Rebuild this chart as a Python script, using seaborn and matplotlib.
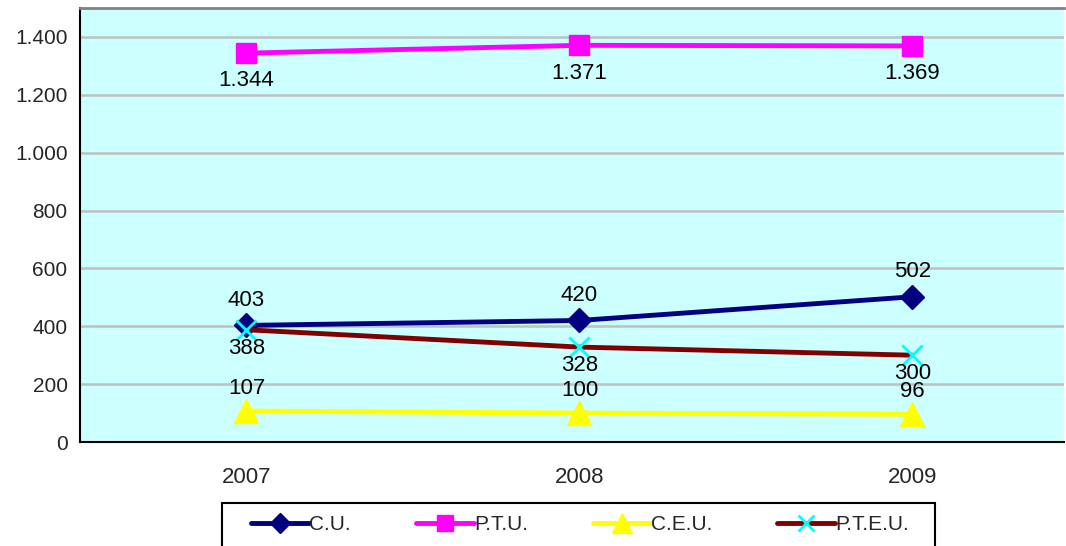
import matplotlib
matplotlib.use("Agg")
import matplotlib.pyplot as plt
import pandas as pd
import seaborn as sns
from matplotlib.patches import Rectangle
from matplotlib.ticker import FuncFormatter

# data
years = ["2007", "2008", "2009"]
cu = [403, 420, 502]
ptu = [1344, 1371, 1369]
ceu = [107, 100, 96]
pteu = [388, 328, 300]

series_names = ["C.U.", "P.T.U.", "C.E.U.", "P.T.E.U."]
series_vals = [cu, ptu, ceu, pteu]

rows = []
for name, vals in zip(series_names, series_vals):
    for i, v in enumerate(vals):
        rows.append({"serie": name, "x": i, "valore": v})
df = pd.DataFrame(rows)

sns.set_style("white")
plt.rcParams["font.family"] = ["Liberation Sans", "DejaVu Sans"]

fig = plt.figure(figsize=(10.66, 5.46), dpi=100)
ax = fig.add_axes([80 / 1066, 104 / 546, 984 / 1066, 434 / 546])
ax.set_facecolor("#CCFFFF")

styles = {
    "C.U.": dict(color="#000080", marker="D", ms=12, mec="#000080", mfc="#000080", mew=1),
    "P.T.U.": dict(color="#FF00FF", marker="s", ms=14, mec="#FF00FF", mfc="#FF00FF", mew=1),
    "C.E.U.": dict(color="#FFFF00", marker="^", ms=17, mec="#FFFF00", mfc="#FFFF00", mew=1),
    "P.T.E.U.": dict(color="#800000", marker="x", ms=14, mec="#00FFFF", mfc="#00FFFF", mew=2),
}

# offsets of the value labels (points): positive = above
offsets = {"C.U.": 18, "P.T.U.": -20, "C.E.U.": 16.5, "P.T.E.U.": -13.5}

handles = []
for name in series_names:
    st = styles[name]
    d = df[df["serie"] == name]
    sns.lineplot(data=d, x="x", y="valore", ax=ax, color=st["color"], linewidth=3.5,
                 marker=st["marker"], markersize=st["ms"], markeredgecolor=st["mec"],
                 markerfacecolor=st["mfc"], markeredgewidth=st["mew"], legend=False)
    handles.append(ax.lines[-1])
    for xi, v in zip(d["x"], d["valore"]):
        lab = f"{v:,}".replace(",", ".")
        ax.annotate(lab, (xi, v), xytext=(0, offsets[name]), textcoords="offset points",
                    ha="center", va="center", fontsize=16, color="black")

ax.set_xlim(-0.5, 2.455)
ax.set_ylim(0, 1500)
ax.set_yticks(range(0, 1401, 200))
ax.yaxis.set_major_formatter(FuncFormatter(lambda v, p: f"{int(v):,}".replace(",", ".")))
ax.yaxis.grid(True, color="#C0C0C0", linewidth=1.8)
ax.set_axisbelow(True)

ax.set_xticks([0, 1, 2])
ax.set_xticklabels(years)
ax.set_xticks([-0.5, 0.5, 1.5], minor=True)
ax.tick_params(axis="x", which="major", length=0, pad=18, labelsize=16)
ax.tick_params(axis="x", which="minor", length=7, width=1.5, direction="out", color="black")
ax.tick_params(axis="y", length=5, width=1.5, direction="out", color="black", labelsize=15, pad=4)
ax.set_xlabel("")
ax.set_ylabel("")

for s in ["left", "bottom"]:
    ax.spines[s].set_color("black")
    ax.spines[s].set_linewidth(1.5)
ax.spines["top"].set_color("#808080")
ax.spines["top"].set_linewidth(2)
ax.spines["right"].set_visible(False)

# legend (frame drawn separately, it runs off the bottom of the picture)
leg = fig.legend(handles, series_names, loc="upper center", bbox_to_anchor=(580 / 1066, 1 - 503 / 546),
                 ncol=4, frameon=False, fontsize=15,
                 handlelength=2.8, handletextpad=0.0, columnspacing=3.1, borderpad=0.6,
                 borderaxespad=0, markerscale=0.85)
fig.patches.append(Rectangle((222 / 1066, -0.05), (935 - 222) / 1066, 0.05 + 1 - 503 / 546,
                             transform=fig.transFigure, fill=False, edgecolor="black",
                             linewidth=1.5, figure=fig))

fig.savefig("out.png", dpi=100)
